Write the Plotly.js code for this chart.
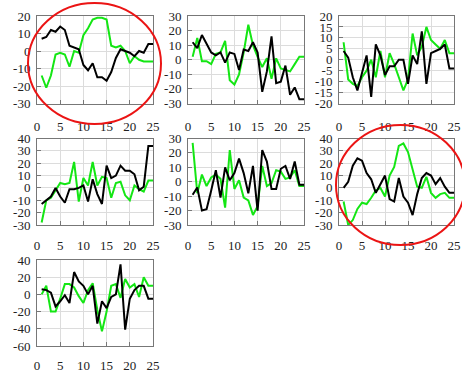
<!DOCTYPE html>
<html>
<head>
<meta charset="utf-8">
<script src="https://cdn.plot.ly/plotly-3.0.1.min.js"></script>
<style>html,body{margin:0;padding:0;background:#fff;}#chart{width:462px;height:374px;}</style>
</head>
<body>
<div id="chart"></div>
<script>
const xVals = [1,2,3,4,5,6,7,8,9,10,11,12,13,14,15,16,17,18,19,20,21,22,23,24,25];

const black1 = [7,8,12,11,14,12,3,2,1,-8,-11,-7,-15,-15,-17,-12,-4,1,0,-1,-3,0,-1,4,4];
const green1 = [-14,-21,-14,-2,-1,-2,-9,0,-1,9,13,18,19,19,18,3,2,3,0,-7,-3,-5,-6,-6,-6];

const black2 = [12,8,17,11,5,3,5,-2,5,4,-7,7,6,12,5,-22,-8,16,-16,-15,-4,-24,-19,-27,-27];
const green2 = [2,15,-1,-1,-3,4,5,13,-14,-17,-10,5,24,10,2,-5,1,-13,1,-6,-7,-8,-3,2,2];

const black3 = [4,1,-8,-14,-6,2,-17,7,2,-7,-3,-3,0,0,-11,2,-2,13,-11,3,4,5,7,-4,-4];
const green3 = [8,-9,-11,-12,-8,-5,0,-8,4,-8,3,-2,-8,-14,-9,12,2,6,15,9,7,5,9,3,3];

const black4 = [-13,-10,-7,0,-7,-12,-1,-1,0,2,-11,7,-5,-13,18,8,10,18,14,14,11,-2,1,34,34];
const green4 = [-28,-10,-8,-2,4,3,4,21,-11,8,2,21,2,9,8,-8,4,5,-6,-10,2,-1,-3,6,6];

const black5 = [-9,-4,-20,-19,-6,8,-11,10,1,6,16,6,-8,11,-20,22,14,-5,-5,9,11,2,14,-2,-2];
const green5 = [27,-8,5,-3,3,5,2,-18,22,-5,1,-11,-13,-23,-17,11,-3,-1,8,7,2,3,8,-3,-3];

const black6 = [0,5,18,24,22,12,7,-4,3,10,-9,-11,8,-7,-12,-22,-5,8,12,10,3,8,1,-4,-4];
const green6 = [-11,-30,-26,-17,-12,-13,-8,-2,0,-7,10,17,34,36,29,14,1,0,9,-4,-8,-5,-4,-8,-8];

const black7 = [6,5,2,-14,-8,-1,-10,26,15,10,0,10,-34,-8,-16,-3,0,35,-41,-5,5,10,10,-5,-5];
const green7 = [0,10,-20,-20,-5,12,12,8,-2,-10,5,13,-18,-43,-20,10,12,-4,18,8,12,-3,20,10,10];

const xTicks = [0,5,10,15,20,25];
const xTickText = ["0","5","10","15","20","25"];
const yTicks1 = [-30,-20,-10,0,10,20];
const yTickText1 = ["-30","-20","-10","0","10","20"];
const yTicks2 = [-30,-20,-10,0,10,20,30];
const yTickText2 = ["-30","-20","-10","0","10","20","30"];
const yTicks3 = [-20,-15,-10,-5,0,5,10,15,20];
const yTickText3 = ["-20","-15","-10","-5","0","5","10","15","20"];
const yTicks4 = [-30,-20,-10,0,10,20,30,40];
const yTickText4 = ["-30","-20","-10","0","10","20","30","40"];
const yTicks7 = [-60,-40,-20,0,20,40];
const yTickText7 = ["-60","-40","-20","0","20","40"];

const blacks = [black1,black2,black3,black4,black5,black6,black7];
const greens = [green1,green2,green3,green4,green5,green6,green7];
const yTickSets = [
  [yTicks1,yTickText1,[-30,20]],
  [yTicks2,yTickText2,[-30,30]],
  [yTicks3,yTickText3,[-20,20]],
  [yTicks4,yTickText4,[-30,40]],
  [yTicks2,yTickText2,[-30,30]],
  [yTicks4,yTickText4,[-30,40]],
  [yTicks7,yTickText7,[-60,40]]
];

const W = 462, H = 374;
const colPx = [[37,153],[188,304],[339,454]];
const rowPx = [[16,103.5],[138.5,225],[260,346]];
const rowStandoff = [11, 8, 7];

const greenCol = 'rgb(20,230,20)';
const font = {family:'Liberation Serif', size:13, color:'#222'};

const traces = [];
const layout = {
  width: W, height: H,
  margin: {l:0,r:0,t:0,b:0},
  paper_bgcolor:'#fff', plot_bgcolor:'#fff',
  showlegend:false,
  font: font,
  shapes: []
};

for (let i = 0; i < 7; i++) {
  const col = i % 3, row = Math.floor(i / 3);
  const sfx = i === 0 ? '' : String(i + 1);
  traces.push({x:xVals, y:greens[i], type:'scatter', mode:'lines', line:{color:greenCol, width:2}, xaxis:'x'+sfx, yaxis:'y'+sfx, hoverinfo:'skip'});
  traces.push({x:xVals, y:blacks[i], type:'scatter', mode:'lines', line:{color:'#000', width:2}, xaxis:'x'+sfx, yaxis:'y'+sfx, hoverinfo:'skip'});
  const common = {
    showgrid:true, gridcolor:'#dcdcdc', gridwidth:1,
    showline:true, linecolor:'#777', linewidth:1, mirror:true,
    ticks:'inside', ticklen:4, tickcolor:'#777',
    zeroline:false, tickfont:font, fixedrange:true
  };
  layout['xaxis'+sfx] = Object.assign({}, common, {
    domain:[colPx[col][0]/W, colPx[col][1]/W],
    anchor:'y'+sfx, range:[0,25],
    tickmode:'array', tickvals:xTicks, ticktext:xTickText,
    ticklabelstandoff: rowStandoff[row]
  });
  const ys = yTickSets[i];
  layout['yaxis'+sfx] = Object.assign({}, common, {
    domain:[1 - rowPx[row][1]/H, 1 - rowPx[row][0]/H],
    anchor:'x'+sfx, range:ys[2],
    tickmode:'array', tickvals:ys[0], ticktext:ys[1],
    ticklabelstandoff: 3
  });
}

layout.shapes.push({type:'circle', xref:'paper', yref:'paper',
  x0:28/W, x1:161/W, y0:1-124/H, y1:1-3/H, line:{color:'rgb(235,20,20)', width:2}});
layout.shapes.push({type:'circle', xref:'paper', yref:'paper',
  x0:336/W, x1:465/W, y0:1-245/H, y1:1-125/H, line:{color:'rgb(235,20,20)', width:2}});

Plotly.newPlot('chart', traces, layout, {staticPlot:true, displayModeBar:false});
</script>
</body>
</html>
